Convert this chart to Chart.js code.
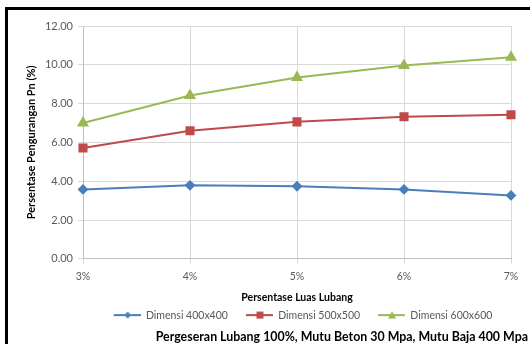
<!DOCTYPE html>
<html lang="en">
<head>
    <meta charset="UTF-8">
    <title>Persentase Pengurangan Pn</title>
    <script src="https://cdn.jsdelivr.net/npm/chart.js"></script>
    <style>
        html, body {
            margin: 0;
            padding: 0;
            background: #fff;
        }
        .frame {
            position: absolute;
            left: 5px;
            top: 7px;
            width: 540px;
            height: 360px;
            border-top: 3px solid #000;
            border-left: 3px solid #000;
        }
        .wrap {
            position: absolute;
            left: 0;
            top: 0;
            width: 530px;
            height: 344px;
        }
    </style>
</head>
<body>
    <div class="frame"></div>
    <div class="wrap"><canvas id="chart" width="530" height="344"></canvas></div>

    <script>
        // data
        const categories = ['3%', '4%', '5%', '6%', '7%'];
        const dim400 = [3.58, 3.79, 3.74, 3.58, 3.27];
        const dim500 = [5.71, 6.60, 7.06, 7.32, 7.43];
        const dim600 = [7.00, 8.42, 9.35, 9.97, 10.39];
        const seriesNames = ['Dimensi 400x400', 'Dimensi 500x500', 'Dimensi 600x600'];

        const FONT = 'Lato, "Open Sans", sans-serif';
        const BLUE = '#4a7ebb';
        const RED = '#be4b48';
        const GREEN = '#98b954';

        // legend icon: line with marker, transparent space on the left for item spacing
        function legendIcon(color, shape) {
            const c = document.createElement('canvas');
            c.width = 39;
            c.height = 10;
            const g = c.getContext('2d');
            const cx = 26;
            g.strokeStyle = color;
            g.lineWidth = 2;
            g.beginPath();
            g.moveTo(12, 5);
            g.lineTo(39, 5);
            g.stroke();
            g.fillStyle = color;
            g.beginPath();
            if (shape === 'diamond') {
                g.moveTo(cx, 1.5); g.lineTo(cx + 3.5, 5); g.lineTo(cx, 8.5); g.lineTo(cx - 3.5, 5);
            } else if (shape === 'square') {
                g.rect(cx - 3.5, 1.5, 7, 7);
            } else {
                g.moveTo(cx, 1); g.lineTo(cx + 4, 8.5); g.lineTo(cx - 4, 8.5);
            }
            g.closePath();
            g.fill();
            return c;
        }
        const icons = [legendIcon(BLUE, 'diamond'), legendIcon(RED, 'square'), legendIcon(GREEN, 'triangle')];

        new Chart(document.getElementById('chart'), {
            type: 'line',
            data: {
                labels: categories,
                datasets: [
                    {
                        label: seriesNames[0],
                        data: dim400,
                        borderColor: BLUE,
                        backgroundColor: BLUE,
                        borderWidth: 2,
                        pointStyle: 'rectRot',
                        pointRadius: 4,
                        pointHoverRadius: 4
                    },
                    {
                        label: seriesNames[1],
                        data: dim500,
                        borderColor: RED,
                        backgroundColor: RED,
                        borderWidth: 2,
                        pointStyle: 'rect',
                        pointRadius: 5,
                        pointHoverRadius: 5
                    },
                    {
                        label: seriesNames[2],
                        data: dim600,
                        borderColor: GREEN,
                        backgroundColor: GREEN,
                        borderWidth: 2,
                        pointStyle: 'triangle',
                        pointRadius: 5,
                        pointHoverRadius: 5
                    }
                ]
            },
            options: {
                responsive: false,
                animation: false,
                layout: {
                    padding: { left: 0, right: 2, top: 26, bottom: 0 }
                },
                plugins: {
                    tooltip: { enabled: false },
                    legend: {
                        position: 'bottom',
                        fullSize: false,
                        labels: {
                            usePointStyle: true,
                            pointStyleWidth: 39,
                            color: '#595959',
                            padding: 6,
                            font: { family: FONT, size: 10.5 },
                            generateLabels: function(chart) {
                                const items = Chart.defaults.plugins.legend.labels.generateLabels(chart);
                                items.forEach((it, i) => { it.pointStyle = icons[i]; });
                                return items;
                            }
                        }
                    },
                    title: {
                        display: true,
                        position: 'bottom',
                        align: 'end',
                        text: 'Pergeseran Lubang 100%, Mutu Beton 30 Mpa, Mutu Baja 400 Mpa',
                        color: '#000',
                        font: { family: FONT, size: 12.4, weight: 'bold', lineHeight: 1.1 },
                        padding: { top: 0, bottom: 0 }
                    }
                },
                scales: {
                    x: {
                        afterFit: function(scale) { scale.height = 45; },
                        grid: { color: '#d9d9d9', tickLength: 5 },
                        border: { color: '#bfbfbf' },
                        ticks: { color: '#595959', font: { family: FONT, size: 10.5 }, padding: 6 },
                        title: {
                            display: true,
                            text: 'Persentase Luas Lubang',
                            color: '#000',
                            font: { family: FONT, size: 10.5, weight: 'bold' },
                            padding: { top: 4, bottom: 0 }
                        }
                    },
                    y: {
                        min: 0,
                        max: 12,
                        afterFit: function(scale) { scale.width = 83; },
                        grid: { color: '#d9d9d9', tickLength: 5 },
                        border: { color: '#bfbfbf' },
                        ticks: {
                            stepSize: 2,
                            color: '#595959',
                            padding: 5,
                            font: { family: FONT, size: 11 },
                            callback: v => Number(v).toFixed(2)
                        },
                        title: {
                            display: true,
                            text: 'Persentase Pengurangan Pn (%)',
                            color: '#000',
                            font: { family: FONT, size: 11, weight: 'bold' },
                            padding: { top: 25, bottom: 0 }
                        }
                    },
                    // empty right-side spacer so the plot ends where the reference does
                    yRight: {
                        position: 'right',
                        afterFit: function(scale) { scale.width = 17; },
                        grid: { display: false },
                        border: { display: false },
                        ticks: { display: false }
                    }
                }
            }
        });
    </script>
</body>
</html>
